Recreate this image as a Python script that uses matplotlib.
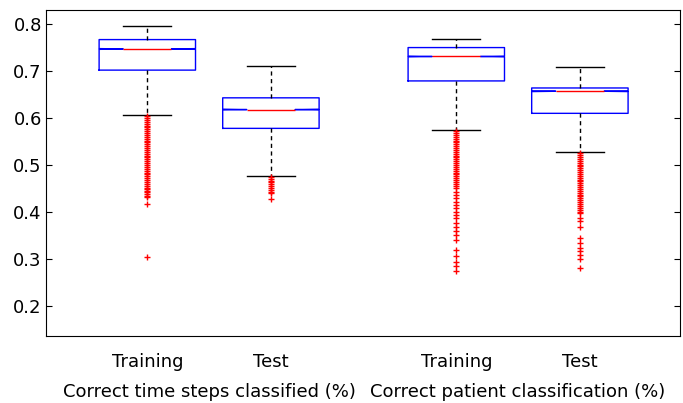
import matplotlib
matplotlib.use('Agg')
import matplotlib.pyplot as plt
import matplotlib.transforms as mtransforms

# box statistics
labels = ['Training', 'Test', 'Training', 'Test']
positions = [1, 2, 3.5, 4.5]
medians = [0.747, 0.618, 0.731, 0.657]
q1 = [0.702, 0.578, 0.679, 0.610]
q3 = [0.767, 0.643, 0.750, 0.664]
whislo = [0.606, 0.477, 0.574, 0.527]
whishi = [0.796, 0.711, 0.769, 0.709]
cilo = [0.7462, 0.6172, 0.7302, 0.6563]
cihi = [0.7478, 0.6188, 0.7318, 0.6577]

fliers_1 = [0.604, 0.600, 0.596, 0.592, 0.588, 0.584, 0.580, 0.576, 0.572, 0.568,
            0.564, 0.560, 0.556, 0.552, 0.548, 0.544, 0.540, 0.536, 0.532, 0.528,
            0.524, 0.520, 0.516, 0.512, 0.508, 0.504, 0.500, 0.496, 0.492, 0.488,
            0.484, 0.480, 0.476, 0.472, 0.468, 0.464, 0.460, 0.456, 0.452, 0.448,
            0.445, 0.442, 0.438, 0.434, 0.431, 0.418, 0.305]
fliers_2 = [0.475, 0.471, 0.467, 0.463, 0.459, 0.455, 0.451, 0.447, 0.443, 0.440,
            0.428]
fliers_3 = [0.572, 0.568, 0.564, 0.560, 0.556, 0.552, 0.548, 0.544, 0.540, 0.536,
            0.532, 0.528, 0.524, 0.520, 0.516, 0.512, 0.508, 0.504, 0.500, 0.496,
            0.492, 0.488, 0.484, 0.480, 0.476, 0.472, 0.468, 0.464, 0.460, 0.455,
            0.450, 0.443, 0.436, 0.429, 0.422, 0.415, 0.408, 0.401, 0.394, 0.387,
            0.376, 0.369, 0.360, 0.351, 0.340, 0.318, 0.306, 0.293, 0.284, 0.275]
fliers_4 = [0.525, 0.521, 0.517, 0.513, 0.509, 0.505, 0.501, 0.497, 0.493, 0.489,
            0.485, 0.481, 0.477, 0.473, 0.469, 0.465, 0.461, 0.457, 0.453, 0.449,
            0.445, 0.441, 0.437, 0.433, 0.429, 0.425, 0.421, 0.417, 0.413, 0.409,
            0.405, 0.401, 0.397, 0.387, 0.381, 0.369, 0.344, 0.335, 0.323, 0.316,
            0.309, 0.299, 0.280]
fliers = [fliers_1, fliers_2, fliers_3, fliers_4]

groups = ['Correct time steps classified (%)', 'Correct patient classification (%)']
group_pos = [1.5, 4.0]

stats = []
for i in range(4):
    stats.append(dict(med=medians[i], q1=q1[i], q3=q3[i], whislo=whislo[i],
                      whishi=whishi[i], cilo=cilo[i], cihi=cihi[i],
                      fliers=fliers[i], label=labels[i]))

fig = plt.figure(figsize=(6.83, 4.03), dpi=100)
ax = fig.add_axes([0.0673, 0.1663, 0.9283, 0.8089])

ax.bxp(stats, positions=positions, widths=0.78, shownotches=True,
       boxprops=dict(color='b', linewidth=1),
       medianprops=dict(color='r', linewidth=1),
       whiskerprops=dict(color='k', linewidth=1, linestyle=(0, (3, 2.5))),
       capprops=dict(color='k', linewidth=1),
       flierprops=dict(marker='+', markeredgecolor='r', markersize=4,
                       markeredgewidth=1.0, linestyle='none'))

ax.set_xlim(0.18, 5.31)
ax.set_ylim(0.136, 0.83)
ax.set_yticks([0.2, 0.3, 0.4, 0.5, 0.6, 0.7, 0.8])
ax.tick_params(axis='y', direction='in', length=4, left=True, right=True,
               labelsize=13, pad=3)
ax.tick_params(axis='x', length=0, labelsize=13, pad=12)
ax.set_xticks(positions)
ax.set_xticklabels(labels)

trans = mtransforms.blended_transform_factory(ax.transData, ax.transAxes)
for g, x in zip(groups, group_pos):
    ax.text(x, -0.172, g, transform=trans, ha='center', va='center', fontsize=13)

fig.savefig('out.png', dpi=100)
